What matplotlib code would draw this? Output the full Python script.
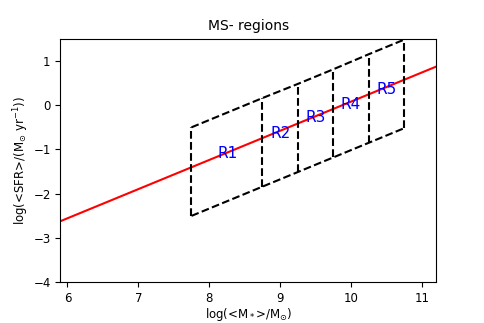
import matplotlib
matplotlib.use('Agg')
import matplotlib.pyplot as plt

# main sequence line (endpoints read at the axis limits)
ms_x = [5.9, 11.2]
ms_y = [-2.62, 0.87]

# region boundaries
edges_x = [7.75, 8.75, 9.25, 9.75, 10.25, 10.75]
upper_y = [-0.5, 0.16, 0.48, 0.81, 1.15, 1.48]
lower_y = [-2.5, -1.84, -1.51, -1.18, -0.85, -0.52]

# region labels
labels = ['R1', 'R2', 'R3', 'R4', 'R5']
label_x = [8.12, 8.86, 9.36, 9.85, 10.36]
label_y = [-1.08, -0.63, -0.28, 0.02, 0.36]

fig, ax = plt.subplots(figsize=(4.85, 3.23), dpi=100)
fig.subplots_adjust(left=0.1245, right=0.899, top=0.88, bottom=0.126)

ax.plot(ms_x, ms_y, color='red', lw=1.5)
ax.plot(edges_x, upper_y, 'k--', lw=1.5)
ax.plot(edges_x, lower_y, 'k--', lw=1.5)
for x, lo, hi in zip(edges_x, lower_y, upper_y):
    ax.plot([x, x], [lo, hi], 'k--', lw=1.5)

for t, x, y in zip(labels, label_x, label_y):
    ax.text(x, y, t, color='blue', fontsize=11, va='center', ha='left')

ax.set_xlim(5.9, 11.2)
ax.set_ylim(-4, 1.5)
ax.set_yticks([-4, -3, -2, -1, 0, 1])
ax.tick_params(labelsize=8.5)
ax.set_title('MS- regions', fontsize=10)
ax.set_xlabel(r'log(<M$_*$>/M$_{\odot}$)', fontsize=8.5, labelpad=1)
ax.set_ylabel(r'log(<SFR>/(M$_{\odot}$ yr$^{-1}$))', fontsize=8.5, labelpad=2)

fig.savefig('out.png')
